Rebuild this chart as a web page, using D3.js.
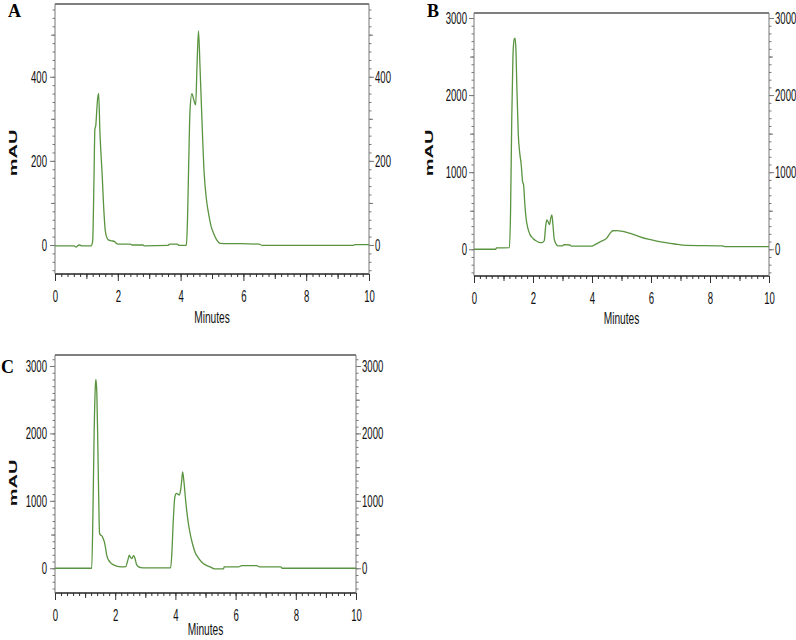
<!DOCTYPE html>
<html>
<head>
<meta charset="utf-8">
<script src="https://cdn.jsdelivr.net/npm/d3@7"></script>
<style>
  body { margin: 0; background: #fff; }
  svg { display: block; }
</style>
</head>
<body>
<div class="svg-target"></div>
<script>
const w = 796;
const h = 640;
const squeeze = 0.58; // the original figure is horizontally squashed

// Panel A: chromatogram
const timeA = [0, 0.6, 0.68, 0.72, 0.78, 0.85, 1.15, 1.2, 1.24, 1.27, 1.3, 1.33, 1.36, 1.39, 1.43, 1.47, 1.5, 1.55, 1.6, 1.65, 1.7, 1.8, 1.9, 1.95, 2.0, 2.4, 2.45, 2.8, 2.85, 3.6, 3.65, 3.9, 3.95, 4.15, 4.18, 4.22, 4.26, 4.3, 4.36, 4.42, 4.48, 4.52, 4.57, 4.62, 4.68, 4.75, 4.82, 4.89, 4.97, 5.05, 5.15, 5.26, 6.5, 6.6, 9.5, 9.55, 10];
const mauA  = [-2, -2, -5, -2, 0, -2, -2, 10, 150, 275, 285, 320, 350, 360, 270, 210, 170, 90, 35, 18, 12, 10, 8, 4, 2, 2, 0, 0, -2, -1, 2, 2, -1, -1, 0, 60, 200, 320, 360, 345, 333, 420, 509, 420, 297, 171, 110, 75, 45, 28, 12, 4, 2, -1, -1, 1, 1];

// Panel B
const timeB = [0, 0.74, 0.76, 1.2, 1.24, 1.28, 1.32, 1.36, 1.39, 1.42, 1.45, 1.5, 1.55, 1.6, 1.65, 1.68, 1.72, 1.76, 1.82, 1.9, 2.0, 2.1, 2.2, 2.3, 2.38, 2.43, 2.47, 2.52, 2.56, 2.6, 2.64, 2.68, 2.72, 2.78, 2.85, 3.0, 3.05, 3.25, 3.3, 4.0, 4.1, 4.3, 4.5, 4.6, 4.7, 4.85, 5.0, 5.3, 5.6, 5.9, 6.2, 6.5, 6.8, 7.2, 8.4, 8.5, 10];
const mauB  = [0, 0, 17, 20, 500, 1700, 2500, 2720, 2740, 2600, 2150, 1500, 1250, 1100, 870, 840, 600, 420, 280, 190, 140, 110, 90, 85, 110, 300, 380, 350, 320, 400, 445, 300, 130, 70, 45, 45, 60, 55, 40, 40, 60, 100, 145, 200, 240, 242, 235, 205, 165, 130, 105, 85, 68, 50, 45, 35, 35];

// Panel C
const timeC = [0, 1.22, 1.26, 1.3, 1.34, 1.36, 1.39, 1.42, 1.45, 1.48, 1.52, 1.56, 1.6, 1.64, 1.68, 1.72, 1.78, 1.85, 1.95, 2.05, 2.2, 2.35, 2.42, 2.47, 2.51, 2.55, 2.59, 2.62, 2.66, 2.71, 2.78, 2.85, 3.0, 3.84, 3.88, 3.93, 3.98, 4.03, 4.08, 4.13, 4.17, 4.21, 4.24, 4.28, 4.35, 4.42, 4.49, 4.57, 4.65, 4.75, 4.87, 5.0, 5.15, 5.3, 5.6, 5.62, 6.1, 6.2, 6.7, 6.8, 7.5, 7.55, 10];
const mauC  = [0, 0, 800, 2000, 2700, 2800, 2600, 1900, 1100, 520, 490, 480, 440, 390, 300, 190, 120, 80, 50, 30, 20, 25, 120, 193, 160, 144, 175, 188, 140, 55, 20, 10, 5, 5, 200, 713, 1050, 1110, 1100, 1085, 1150, 1300, 1431, 1300, 961, 700, 515, 360, 242, 160, 94, 50, 20, -8, -8, 20, 20, 40, 40, 20, 20, 0, 0];

// Tick labels
const xTicks = [0, 2, 4, 6, 8, 10];
const yTicksA = [0, 200, 400];
const yTicksBC = [0, 1000, 2000, 3000];
const panelLabels = ['A', 'B', 'C'];

const lineColor = '#5a9440';

const svg = d3.select('.svg-target')
    .append('svg')
    .attr('width', w)
    .attr('height', h)
    .style('font-family', 'Liberation Sans, Arial, sans-serif');

const drawPanel = (p) => {
    const x = d3.scaleLinear().domain([0, 10]).range([p.left, p.right]);
    const y = d3.scaleLinear().domain(p.yDomain).range([p.bottom, p.top]);
    const g = svg.append('g');

    // frame: top border black, sides grey
    g.append('line')
        .attr('x1', p.left).attr('x2', p.right)
        .attr('y1', p.top).attr('y2', p.top)
        .attr('stroke', '#000').attr('stroke-width', 1.2);

    // x axis: minor, medium, major ticks
    const addX = (vals, size, labels) => {
        const ax = g.append('g')
            .attr('transform', `translate(0, ${p.bottom})`)
            .call(d3.axisBottom(x).tickValues(vals).tickSize(size).tickPadding(9)
                .tickFormat(labels ? d3.format('d') : ''));
        ax.select('.domain').remove();
        ax.selectAll('line').attr('stroke', '#333');
        return ax;
    };
    addX(d3.range(0, 10.001, 0.2), 3, false);
    addX([1, 3, 5, 7, 9], 5, false);
    const xMajor = addX(xTicks, 7, true);
    xMajor.selectAll('text')
        .attr('transform', `scale(${squeeze},1)`)
        .attr('font-size', 16.5)
        .attr('fill', '#111');
    g.append('line')
        .attr('x1', p.left).attr('x2', p.right)
        .attr('y1', p.bottom).attr('y2', p.bottom)
        .attr('stroke', '#222').attr('stroke-width', 1.3);

    // y axes (left and right)
    const addY = (axisFn, xPos, vals, size, labels, pad) => {
        const ay = g.append('g')
            .attr('transform', `translate(${xPos}, 0)`)
            .call(axisFn(y).tickValues(vals).tickSize(size)
                .tickFormat(labels ? d3.format('d') : ''));
        ay.select('.domain').remove();
        ay.selectAll('line').attr('stroke', '#777');
        if (labels) {
            ay.selectAll('text')
                .attr('transform', `scale(${squeeze},1)`)
                .attr('x', pad / squeeze)
                .attr('font-size', 16.5)
                .attr('fill', '#111');
        }
    };
    const minor = d3.range(Math.ceil(p.yDomain[0] / p.minor) * p.minor, p.yDomain[1], p.minor);
    const medium = minor.filter(v => v % p.medium === 0 && v % p.major !== 0);
    [[d3.axisLeft, p.left, -p.labelPadL], [d3.axisRight, p.right, p.labelPadR]].forEach(([fn, xp, pad]) => {
        addY(fn, xp, minor, 2.5, false);
        addY(fn, xp, medium, 4, false);
        addY(fn, xp, p.yTicks, 5, true, pad);
        g.append('line')
            .attr('x1', xp).attr('x2', xp)
            .attr('y1', p.top).attr('y2', p.bottom)
            .attr('stroke', '#777').attr('stroke-width', 1);
    });

    // trace
    const line = d3.line()
        .x((d, i) => x(p.time[i]))
        .y(d => y(d))
        .curve(d3.curveMonotoneX);
    g.append('path')
        .datum(p.mau)
        .attr('d', line)
        .attr('fill', 'none')
        .attr('stroke', lineColor)
        .attr('stroke-width', 1.3);

    // axis titles
    g.append('text')
        .attr('transform', `translate(${(p.left + p.right) / 2}, ${p.minutesY}) scale(${squeeze + 0.02},1)`)
        .attr('text-anchor', 'middle')
        .attr('font-size', 17)
        .attr('fill', '#111')
        .text('Minutes');
    g.append('text')
        .attr('transform', `translate(${p.mauX}, ${p.mauY}) scale(${squeeze},1) rotate(-90)`)
        .attr('text-anchor', 'middle')
        .attr('font-size', 20)
        .attr('font-weight', 'bold')
        .attr('fill', '#111')
        .text('mAU');

    // panel letter
    g.append('text')
        .attr('x', p.letterX).attr('y', p.letterY)
        .attr('font-family', 'Liberation Serif, Times New Roman, serif')
        .attr('font-weight', 'bold')
        .attr('font-size', 18)
        .attr('fill', '#000')
        .text(p.letter);
};

drawPanel({
    letter: panelLabels[0], letterX: 8, letterY: 17,
    left: 55, right: 369, top: 4, bottom: 274,
    yDomain: [-69, 573], yTicks: yTicksA, minor: 20, medium: 100, major: 200,
    time: timeA, mau: mauA,
    labelPadL: 8, labelPadR: 6, minutesY: 323, mauX: 17, mauY: 153
});
drawPanel({
    letter: panelLabels[1], letterX: 427, letterY: 17,
    left: 474, right: 769, top: 13, bottom: 276,
    yDomain: [-347, 3065], yTicks: yTicksBC, minor: 100, medium: 500, major: 1000,
    time: timeB, mau: mauB,
    labelPadL: 7, labelPadR: 6, minutesY: 324, mauX: 433, mauY: 153
});
drawPanel({
    letter: panelLabels[2], letterX: 1, letterY: 373,
    left: 55, right: 356, top: 355, bottom: 593,
    yDomain: [-367, 3163], yTicks: yTicksBC, minor: 100, medium: 500, major: 1000,
    time: timeC, mau: mauC,
    labelPadL: 8, labelPadR: 6, minutesY: 635, mauX: 17, mauY: 483
});
</script>
</body>
</html>
